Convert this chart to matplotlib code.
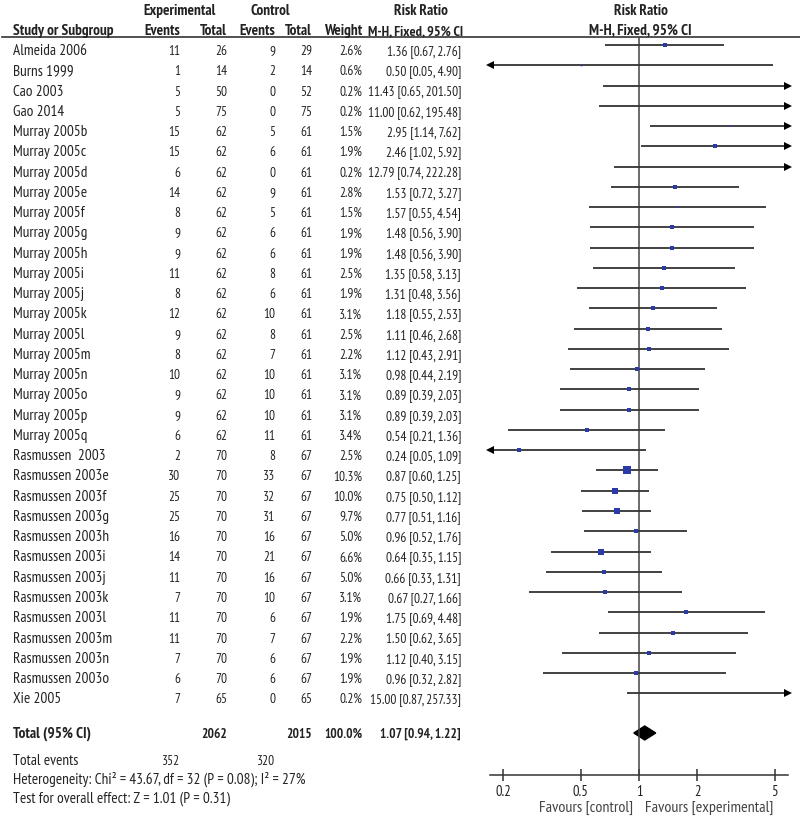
import numpy as np
import matplotlib.pyplot as plt
from matplotlib.patches import Polygon

studies = ["Almeida 2006", "Burns 1999", "Cao 2003", "Gao 2014",
           "Murray 2005b", "Murray 2005c", "Murray 2005d", "Murray 2005e",
           "Murray 2005f", "Murray 2005g", "Murray 2005h", "Murray 2005i",
           "Murray 2005j", "Murray 2005k", "Murray 2005l", "Murray 2005m",
           "Murray 2005n", "Murray 2005o", "Murray 2005p", "Murray 2005q",
           "Rasmussen  2003", "Rasmussen 2003e", "Rasmussen 2003f", "Rasmussen 2003g",
           "Rasmussen 2003h", "Rasmussen 2003i", "Rasmussen 2003j", "Rasmussen 2003k",
           "Rasmussen 2003l", "Rasmussen 2003m", "Rasmussen 2003n", "Rasmussen 2003o",
           "Xie 2005"]
exp_events = [11, 1, 5, 5, 15, 15, 6, 14, 8, 9, 9, 11, 8, 12, 9, 8, 10, 9, 9, 6,
              2, 30, 25, 25, 16, 14, 11, 7, 11, 11, 7, 6, 7]
exp_total = [26, 14, 50, 75, 62, 62, 62, 62, 62, 62, 62, 62, 62, 62, 62, 62, 62, 62, 62, 62,
             70, 70, 70, 70, 70, 70, 70, 70, 70, 70, 70, 70, 65]
ctl_events = [9, 2, 0, 0, 5, 6, 0, 9, 5, 6, 6, 8, 6, 10, 8, 7, 10, 10, 10, 11,
              8, 33, 32, 31, 16, 21, 16, 10, 6, 7, 6, 6, 0]
ctl_total = [29, 14, 52, 75, 61, 61, 61, 61, 61, 61, 61, 61, 61, 61, 61, 61, 61, 61, 61, 61,
             67, 67, 67, 67, 67, 67, 67, 67, 67, 67, 67, 67, 65]
weight = [2.6, 0.6, 0.2, 0.2, 1.5, 1.9, 0.2, 2.8, 1.5, 1.9, 1.9, 2.5, 1.9, 3.1, 2.5, 2.2,
          3.1, 3.1, 3.1, 3.4, 2.5, 10.3, 10.0, 9.7, 5.0, 6.6, 5.0, 3.1, 1.9, 2.2, 1.9, 1.9, 0.2]
rr = [1.36, 0.50, 11.43, 11.00, 2.95, 2.46, 12.79, 1.53, 1.57, 1.48, 1.48, 1.35, 1.31, 1.18,
      1.11, 1.12, 0.98, 0.89, 0.89, 0.54, 0.24, 0.87, 0.75, 0.77, 0.96, 0.64, 0.66, 0.67,
      1.75, 1.50, 1.12, 0.96, 15.00]
lo = [0.67, 0.05, 0.65, 0.62, 1.14, 1.02, 0.74, 0.72, 0.55, 0.56, 0.56, 0.58, 0.48, 0.55,
      0.46, 0.43, 0.44, 0.39, 0.39, 0.21, 0.05, 0.60, 0.50, 0.51, 0.52, 0.35, 0.33, 0.27,
      0.69, 0.62, 0.40, 0.32, 0.87]
hi = [2.76, 4.90, 201.50, 195.48, 7.62, 5.92, 222.28, 3.27, 4.54, 3.90, 3.90, 3.13, 3.56,
      2.53, 2.68, 2.91, 2.19, 2.03, 2.03, 1.36, 1.09, 1.25, 1.12, 1.16, 1.76, 1.15, 1.31,
      1.66, 4.48, 3.65, 3.15, 2.82, 257.33]

total_exp, total_ctl = 2062, 2015
events_exp, events_ctl = 352, 320
pooled = (1.07, 0.94, 1.22)
ticks = [0.2, 0.5, 1, 2, 5]

# narrow face, closest to the Arial Narrow look of RevMan output
fam = ['PT Sans Narrow', 'Liberation Sans', 'DejaVu Sans']
col = '#222222'
fs_lab = 11      # names and footer text
fs_num = 9.6     # numbers in the table
fs_head = 11     # bold header

fig = plt.figure(figsize=(8, 8.2), dpi=100)
bg = fig.add_axes([0, 0, 1, 1])
bg.set_xlim(0, 800)
bg.set_ylim(820, 0)
bg.axis('off')

def txt(x, y, s, ha='left', bold=False, size=fs_lab, color=col):
    bg.text(x, y, s, ha=ha, va='baseline', fontsize=size, family=fam, color=color,
            fontweight='bold' if bold else 'normal')

# header
txt(180, 15, "Experimental", ha='center', bold=True, size=fs_head)
txt(270, 15, "Control", ha='center', bold=True, size=fs_head)
txt(421, 15, "Risk Ratio", ha='center', bold=True, size=fs_head)
txt(641, 15, "Risk Ratio", ha='center', bold=True, size=fs_head)
txt(13, 35, "Study or Subgroup", bold=True, size=fs_head)
txt(180, 35, "Events", ha='right', bold=True, size=fs_head)
txt(227, 35, "Total", ha='right', bold=True, size=fs_head)
txt(275, 35, "Events", ha='right', bold=True, size=fs_head)
txt(312, 35, "Total", ha='right', bold=True, size=fs_head)
txt(362, 35, "Weight", ha='right', bold=True, size=fs_head)
txt(416, 35, "M-H, Fixed, 95% CI", ha='center', bold=True, size=10.2)
txt(640, 35, "M-H, Fixed, 95% CI", ha='center', bold=True, size=fs_head)
bg.plot([2, 800], [38, 38], color='#333333', lw=1.2)

row0, step = 46, 20.26
ys = row0 + step * np.arange(len(studies))

for i, y in enumerate(ys):
    b = y + 9
    txt(13, b, studies[i])
    txt(180, b, str(exp_events[i]), ha='right', size=fs_num)
    txt(227, b, str(exp_total[i]), ha='right', size=fs_num)
    txt(275, b, str(ctl_events[i]), ha='right', size=fs_num)
    txt(312, b, str(ctl_total[i]), ha='right', size=fs_num)
    txt(362, b, f"{weight[i]:.1f}%", ha='right', size=fs_num)
    txt(461, b, f"{rr[i]:.2f} [{lo[i]:.2f}, {hi[i]:.2f}]", ha='right', size=fs_num)

# totals
txt(13, 738, "Total (95% CI)", bold=True)
txt(227, 738, str(total_exp), ha='right', bold=True, size=fs_num)
txt(312, 738, str(total_ctl), ha='right', bold=True, size=fs_num)
txt(362, 738, "100.0%", ha='right', bold=True, size=fs_num)
txt(461, 738, f"{pooled[0]:.2f} [{pooled[1]:.2f}, {pooled[2]:.2f}]", ha='right', bold=True,
    size=fs_num)
txt(13, 765, "Total events")
txt(180, 765, str(events_exp), ha='right', size=fs_num)
txt(275, 765, str(events_ctl), ha='right', size=fs_num)
txt(13, 784, "Heterogeneity: Chi\u00b2 = 43.67, df = 32 (P = 0.08); I\u00b2 = 27%")
txt(13, 803, "Test for overall effect: Z = 1.01 (P = 0.31)")

# forest panel, y data in pixel rows
x_left, x_right = 489.7, 788.3
y_top, y_axis = 38, 776
ax = fig.add_axes([x_left / 800, (820 - y_axis) / 820, (x_right - x_left) / 800,
                   (y_axis - y_top) / 820])
ax.set_xscale('log')
xmin, xmax = 10 ** -0.77, 10 ** 0.77
ax.set_xlim(xmin, xmax)
ax.set_ylim(y_axis, y_top)
ax.patch.set_alpha(0)
for s in ['top', 'right', 'left']:
    ax.spines[s].set_visible(False)
ax.spines['bottom'].set_color('#333333')
ax.spines['bottom'].set_linewidth(1.1)
ax.set_yticks([])
ax.set_xticks(ticks)
ax.set_xticklabels([f"{t:g}" for t in ticks], family=fam, fontsize=10.5, color=col)
ax.xaxis.set_minor_locator(plt.NullLocator())
ax.tick_params(axis='x', direction='inout', length=9, width=1.1, color='#333333', pad=2)

ax.plot([1, 1], [y_top, y_axis], color='#444444', lw=1.1)

for i, y in enumerate(ys):
    l = max(lo[i], xmin)
    h = min(hi[i], xmax)
    ax.plot([l, h], [y, y], color='#333333', lw=1.3, solid_capstyle='butt')
    if hi[i] > xmax:
        ax.plot([xmax], [y], marker='>', color='black', markersize=6, clip_on=False,
                markeredgewidth=0)
    if lo[i] < xmin:
        ax.plot([xmin], [y], marker='<', color='black', markersize=6, clip_on=False,
                markeredgewidth=0)
    if xmin < rr[i] < xmax:
        side = 2.2 * np.sqrt(weight[i]) * 0.72
        ax.plot([rr[i]], [y], marker='s', color='#2a3aa8', markersize=side,
                markeredgewidth=0)

yd = 734
diamond = Polygon([[pooled[1], yd], [pooled[0], yd - 7], [pooled[2], yd],
                   [pooled[0], yd + 7]], closed=True, color='black')
ax.add_patch(diamond)

txt(633, 812, "Favours [control]", ha='right', size=11.5, color='#444444')
txt(645, 812, "Favours [experimental]", size=11.5, color='#444444')

fig.savefig("out.png", dpi=100)
